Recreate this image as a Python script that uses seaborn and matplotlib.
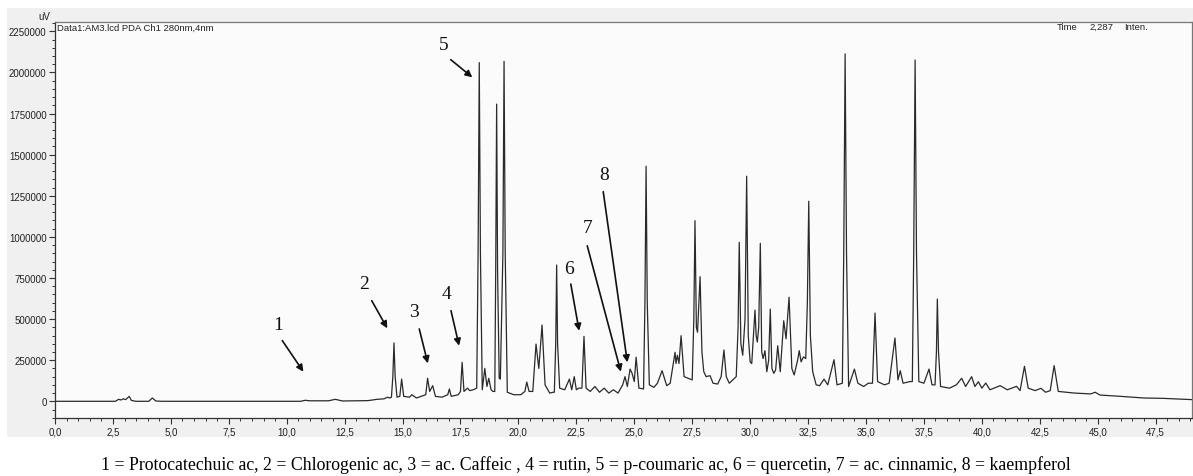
import numpy as np
import pandas as pd
import matplotlib
matplotlib.use("Agg")
import matplotlib.pyplot as plt
from matplotlib.ticker import MultipleLocator, FuncFormatter
from matplotlib.patches import Rectangle
import seaborn as sns

trace_t = [0.0, 2.6, 2.75, 2.85, 2.95, 3.05, 3.2, 3.3, 3.5, 4.05, 4.2, 4.35, 4.6,
           10.6, 10.8, 11.0, 11.8, 12.1, 12.4, 13.5, 13.9, 14.2, 14.35, 14.45,
           14.52, 14.58, 14.63, 14.68, 14.76,
           14.88, 14.96, 15.05, 15.3, 15.4, 15.6, 15.8, 16.0, 16.08, 16.17, 16.3, 16.42, 16.7,
           16.95, 17.02, 17.1, 17.4, 17.5, 17.57, 17.65, 17.8, 17.9, 18.05,
           18.2, 18.26, 18.31, 18.36, 18.44, 18.55, 18.64, 18.72, 18.82, 18.9,
           18.98, 19.02, 19.06, 19.1, 19.17, 19.22, 19.33, 19.38, 19.43, 19.52,
           19.8, 20.1, 20.28, 20.36, 20.46,
           20.62, 20.76, 20.88, 21.02, 21.15, 21.35, 21.5,
           21.55, 21.61, 21.65, 21.69, 21.78, 22.0,
           22.2, 22.3, 22.41, 22.5, 22.6, 22.74, 22.83, 22.92, 23.1, 23.3, 23.5, 23.7, 23.9,
           24.1, 24.3, 24.5, 24.6, 24.7, 24.82, 24.9, 25.0, 25.08, 25.2,
           25.4, 25.46, 25.51, 25.56, 25.65, 25.85, 26.0, 26.2, 26.4, 26.55, 26.76, 26.8,
           26.86, 26.93, 27.02, 27.15,
           27.5, 27.57, 27.62, 27.68, 27.73, 27.84, 27.92, 28.0, 28.1, 28.27, 28.4, 28.6, 28.75,
           28.87, 28.97, 29.1, 29.4, 29.48, 29.53, 29.6, 29.68, 29.78, 29.85, 29.92, 30.0,
           30.07, 30.21, 30.26, 30.31, 30.37, 30.44, 30.5, 30.56, 30.64, 30.72, 30.8, 30.87,
           30.94, 31.02, 31.1, 31.19, 31.3, 31.45, 31.55, 31.68, 31.8, 31.9, 32.05, 32.12,
           32.2, 32.3, 32.4, 32.47, 32.53, 32.6, 32.7,
           32.85, 33.0, 33.19, 33.35, 33.62, 33.75, 33.98, 34.04, 34.1, 34.16, 34.25,
           34.5, 34.65, 34.9, 35.1, 35.28, 35.39, 35.5, 35.8, 36.0, 36.25, 36.38, 36.48,
           36.6, 36.9, 37.0, 37.06, 37.12, 37.18, 37.28, 37.5, 37.72, 37.85,
           37.98, 38.04, 38.08, 38.13, 38.22, 38.6, 38.9, 39.13, 39.3,
           39.56, 39.7, 39.85, 40.0, 40.17, 40.35, 40.79, 41.1, 41.5, 41.65, 41.84,
           42.0, 42.3, 42.55, 42.75, 42.95, 43.12, 43.3, 44.0, 44.7, 44.89, 45.1,
           46.0, 47.0, 47.8, 49.1]
trace_v = [0, 0, 12000, 8000, 15000, 10000, 30000, 5000, 0, 0, 20000, 2000, 0,
           0, 6000, 3000, 3000, 12000, 2000, 4000, 12000, 15000, 25000, 20000,
           25000, 150000, 355000, 150000, 25000,
           30000, 135000, 30000, 25000, 40000, 20000, 30000, 40000, 140000, 60000, 95000, 30000, 25000,
           40000, 75000, 30000, 40000, 60000, 237000, 60000, 80000, 65000, 70000,
           80000, 900000, 2060000, 900000, 70000, 200000, 90000, 140000, 70000, 60000,
           60000, 800000, 1808000, 800000, 140000, 135000, 900000, 2068000, 900000, 55000,
           40000, 40000, 60000, 117000, 60000,
           60000, 348000, 200000, 464000, 100000, 50000, 55000,
           55000, 350000, 829000, 350000, 80000, 70000,
           135000, 70000, 150000, 70000, 80000, 80000, 395000, 80000, 60000, 90000, 55000, 80000, 50000,
           70000, 50000, 100000, 150000, 90000, 196000, 172000, 120000, 268000, 80000,
           75000, 600000, 1430000, 600000, 100000, 85000, 110000, 186000, 95000, 110000, 298000, 230000,
           280000, 230000, 399000, 150000,
           130000, 500000, 1099000, 450000, 420000, 758000, 300000, 180000, 150000, 156000, 110000, 105000, 150000,
           312000, 150000, 110000, 150000, 450000, 967000, 350000, 280000, 500000, 1369000, 400000, 240000,
           230000, 555000, 400000, 360000, 450000, 961000, 300000, 260000, 308000, 180000, 250000, 561000,
           200000, 170000, 190000, 338000, 180000, 490000, 380000, 633000, 200000, 160000, 250000, 308000,
           240000, 270000, 260000, 600000, 1217000, 400000, 180000,
           100000, 95000, 135000, 100000, 253000, 100000, 110000, 900000, 2113000, 900000, 90000,
           196000, 110000, 90000, 110000, 110000, 537000, 120000, 100000, 110000, 385000, 130000, 186000,
           110000, 120000, 120000, 900000, 2076000, 900000, 120000, 110000, 196000, 100000,
           100000, 300000, 622000, 300000, 90000, 80000, 100000, 140000, 90000,
           150000, 90000, 119000, 80000, 111000, 70000, 95000, 70000, 91000, 65000, 213000,
           80000, 65000, 79000, 55000, 65000, 217000, 60000, 50000, 45000, 55000, 38000,
           30000, 20000, 18000, 10000]

# ---- peak annotations (numbers 1-8) ----
peak_labels = ["1", "2", "3", "4", "5", "6", "7", "8"]
label_xy = [(9.64, 470000), (13.35, 718000), (15.51, 547000), (16.91, 657000),
            (16.76, 2173000), (22.18, 809000), (22.99, 1058000), (23.69, 1377000)]
arrow_from = [(9.81, 369000), (13.67, 612000), (15.72, 440000), (17.09, 551000),
              (17.08, 2078000), (22.26, 713000), (22.97, 946000), (23.66, 1275000)]
arrow_to = [(10.72, 180000), (14.34, 444000), (16.09, 231000), (17.44, 338000),
            (18.01, 1971000), (22.62, 429000), (24.42, 180000), (24.70, 237000)]

caption = ("1 = Protocatechuic ac, 2 = Chlorogenic ac, 3 = ac. Caffeic , 4 = rutin, "
           "5 = p-coumaric ac, 6 = quercetin, 7 = ac. cinnamic, 8 = kaempferol")

sns.set_style("white")
plt.rcParams['font.family'] = ['Liberation Sans', 'DejaVu Sans']

W, H = 1193, 477
fig = plt.figure(figsize=(W / 100, H / 100), dpi=100)
fig.patch.set_facecolor("white")

# grey instrument panel (behind the axes)
panel = Rectangle((7 / W, 1 - 438 / H), (W - 7) / W, (438 - 9) / H,
                  transform=fig.transFigure, facecolor="#f0f0f0",
                  edgecolor="none", zorder=-10)
fig.add_artist(panel)

ax = fig.add_axes([55 / W, 1 - 419 / H, (1192 - 55) / W, (419 - 22.7) / H])
ax.set_zorder(1)
ax.set_facecolor("#fbfbfb")

df = pd.DataFrame({"t": trace_t, "v": trace_v})
sns.lineplot(data=df, x="t", y="v", ax=ax, color="#2a2a2a", linewidth=0.9,
             estimator=None, sort=False)

ax.set_xlim(0, 49.07)
ax.set_ylim(-101600, 2309000)
ax.set_xlabel("")
ax.set_ylabel("")

ax.xaxis.set_major_locator(MultipleLocator(2.5))
ax.xaxis.set_minor_locator(MultipleLocator(0.5))
ax.yaxis.set_major_locator(MultipleLocator(250000))
ax.yaxis.set_minor_locator(MultipleLocator(50000))
ax.xaxis.set_major_formatter(FuncFormatter(lambda x, p: f"{x:.1f}".replace(".", ",")))
ax.yaxis.set_major_formatter(FuncFormatter(lambda y, p: f"{int(round(y))}"))

ax.tick_params(axis="both", which="major", direction="out", length=4, width=0.8,
               color="#333333", labelsize=7, labelcolor="#222222", pad=2,
               left=True, bottom=True)
ax.tick_params(axis="both", which="minor", direction="out", length=2.5, width=0.7,
               color="#333333", left=True, bottom=True)

for s in ["left", "bottom"]:
    ax.spines[s].set_color("#333333")
    ax.spines[s].set_linewidth(0.9)
for s in ["top", "right"]:
    ax.spines[s].set_color("#777777")
    ax.spines[s].set_linewidth(0.9)

# annotations
for lab, (tx, ty), (fx, fy), (ex, ey) in zip(peak_labels, label_xy, arrow_from, arrow_to):
    ax.text(tx, ty, lab, ha="center", va="center", fontsize=14,
            family=["Liberation Serif", "DejaVu Serif"], color="#111111")
    ax.annotate("", xy=(ex, ey), xytext=(fx, fy),
                arrowprops=dict(arrowstyle="-|>", color="#111111", lw=1.2,
                                mutation_scale=10, shrinkA=0, shrinkB=0))

# header texts
ax.text(2 / 1137, 0.997, "Data1:AM3.lcd PDA Ch1 280nm,4nm", transform=ax.transAxes,
        ha="left", va="top", fontsize=6.8, color="#222222")
fig.text(44 / W, 1 - 17 / H, "uV", ha="center", va="center", fontsize=7, color="#222222")
fig.text(1067 / W, 1 - 27 / H, "Time", ha="center", va="center", fontsize=6.8, color="#222222")
fig.text(1101 / W, 1 - 27 / H, "2,287", ha="center", va="center", fontsize=6.8, color="#222222")
fig.text(1136 / W, 1 - 27 / H, "Inten.", ha="center", va="center", fontsize=6.8, color="#222222")

# caption
fig.text(586 / W, 1 - 465 / H, caption, ha="center", va="center", fontsize=12.8,
         family=["Liberation Serif", "DejaVu Serif"], color="#000000")

fig.savefig("out.png", dpi=100, facecolor="white")
